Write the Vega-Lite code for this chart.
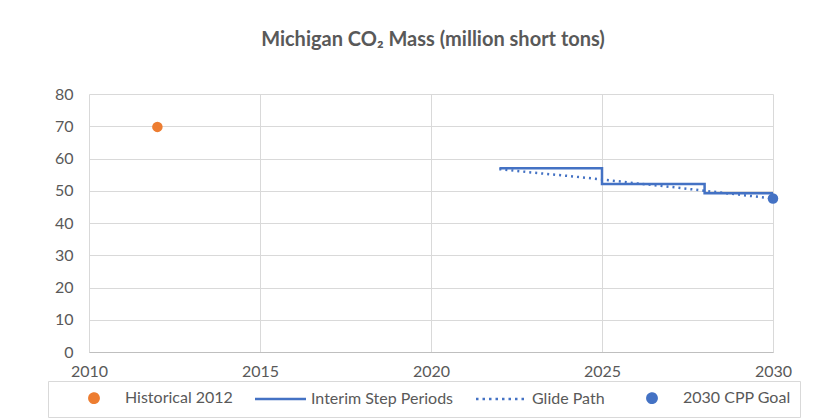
{
  "$schema": "https://vega.github.io/schema/vega-lite/v6.json",
  "width": 684,
  "height": 258,
  "autosize": {"type": "none"},
  "padding": {"left": 89, "top": 94, "right": 56, "bottom": 67},
  "background": "white",
  "config": {"view": {"stroke": null}},
  "title": {
    "text": "Michigan CO₂ Mass (million short tons)",
    "font": "Lato",
    "fontSize": 20,
    "fontWeight": "bold",
    "color": "#595959",
    "anchor": "middle",
    "dx": 2,
    "offset": 36
  },
  "data": {
    "values": [
      {"series": "Historical 2012", "year": 2012, "value": 69.8},
      {"series": "Interim Step Periods", "year": 2022, "value": 57.0},
      {"series": "Interim Step Periods", "year": 2025, "value": 52.1},
      {"series": "Interim Step Periods", "year": 2028, "value": 49.2},
      {"series": "Interim Step Periods", "year": 2030, "value": 49.2},
      {"series": "Glide Path", "year": 2022, "value": 56.7},
      {"series": "Glide Path", "year": 2023, "value": 55.6},
      {"series": "Glide Path", "year": 2024, "value": 54.6},
      {"series": "Glide Path", "year": 2025, "value": 53.5},
      {"series": "Glide Path", "year": 2026, "value": 52.3},
      {"series": "Glide Path", "year": 2027, "value": 51.2},
      {"series": "Glide Path", "year": 2028, "value": 50.0},
      {"series": "Glide Path", "year": 2029, "value": 48.8},
      {"series": "Glide Path", "year": 2030, "value": 47.6},
      {"series": "2030 CPP Goal", "year": 2030, "value": 47.6}
    ]
  },
  "encoding": {
    "x": {
      "field": "year",
      "type": "quantitative",
      "scale": {"domain": [2010, 2030], "nice": false, "zero": false},
      "axis": {
        "title": null,
        "values": [2010, 2015, 2020, 2025, 2030],
        "format": "d",
        "grid": true,
        "gridColor": "#d9d9d9",
        "domainColor": "#bfbfbf",
        "ticks": false,
        "labelPadding": 11,
        "labelFont": "Lato",
        "labelFontSize": 16,
        "labelColor": "#595959",
        "labelFlush": false
      }
    },
    "y": {
      "field": "value",
      "type": "quantitative",
      "scale": {"domain": [0, 80], "nice": false},
      "axis": {
        "title": null,
        "values": [0, 10, 20, 30, 40, 50, 60, 70, 80],
        "grid": true,
        "gridColor": "#d9d9d9",
        "domain": false,
        "ticks": false,
        "labelPadding": 16,
        "labelFont": "Lato",
        "labelFontSize": 16,
        "labelColor": "#595959"
      }
    },
    "color": {
      "field": "series",
      "type": "nominal",
      "scale": {
        "domain": ["Historical 2012", "Interim Step Periods", "Glide Path", "2030 CPP Goal"],
        "range": ["#ED7D31", "#4472C4", "#4472C4", "#4472C4"]
      },
      "legend": {
        "orient": "none",
        "legendX": -41,
        "legendY": 287,
        "direction": "horizontal",
        "columns": 4,
        "title": null,
        "symbolSize": 100,
        "symbolType": "circle",
        "symbolStrokeWidth": 2.5,
        "labelOffset": 52,
        "columnPadding": 10,
        "labelFont": "Lato",
        "labelFontSize": 16,
        "labelColor": "#595959",
        "labelLimit": 300,
        "strokeColor": "#d9d9d9",
        "padding": 9,
        "encode": {
          "symbols": {
            "update": {
              "shape": {"signal": "(datum.value === 'Historical 2012' || datum.value === '2030 CPP Goal') ? 'M 4.87,0 A 0.93,0.93 0 1,0 6.73,0 A 0.93,0.93 0 1,0 4.87,0 Z' : 'M 0.8,0 L 11.0,0'"},
              "size": {"value": 100},
              "strokeWidth": {"value": 2.5},
              "fill": {"signal": "datum.value === 'Historical 2012' ? '#ED7D31' : (datum.value === '2030 CPP Goal' ? '#4472C4' : 'transparent')"},
              "stroke": {"signal": "datum.value === 'Historical 2012' ? '#ED7D31' : '#4472C4'"},
              "strokeDash": {"signal": "datum.value === 'Glide Path' ? [2.5, 4] : [1, 0]"},
              "opacity": {"value": 1}
            }
          }
        }
      }
    }
  },
  "layer": [
    {
      "transform": [{"filter": "datum.series === 'Historical 2012'"}],
      "mark": {"type": "circle", "size": 110, "opacity": 1}
    },
    {
      "transform": [{"filter": "datum.series === 'Interim Step Periods'"}],
      "mark": {"type": "line", "interpolate": "step-after", "strokeWidth": 2.5}
    },
    {
      "transform": [{"filter": "datum.series === 'Glide Path'"}],
      "mark": {"type": "line", "strokeWidth": 2.5, "strokeDash": [2, 4]}
    },
    {
      "transform": [{"filter": "datum.series === '2030 CPP Goal'"}],
      "mark": {"type": "circle", "size": 110, "opacity": 1}
    }
  ]
}
